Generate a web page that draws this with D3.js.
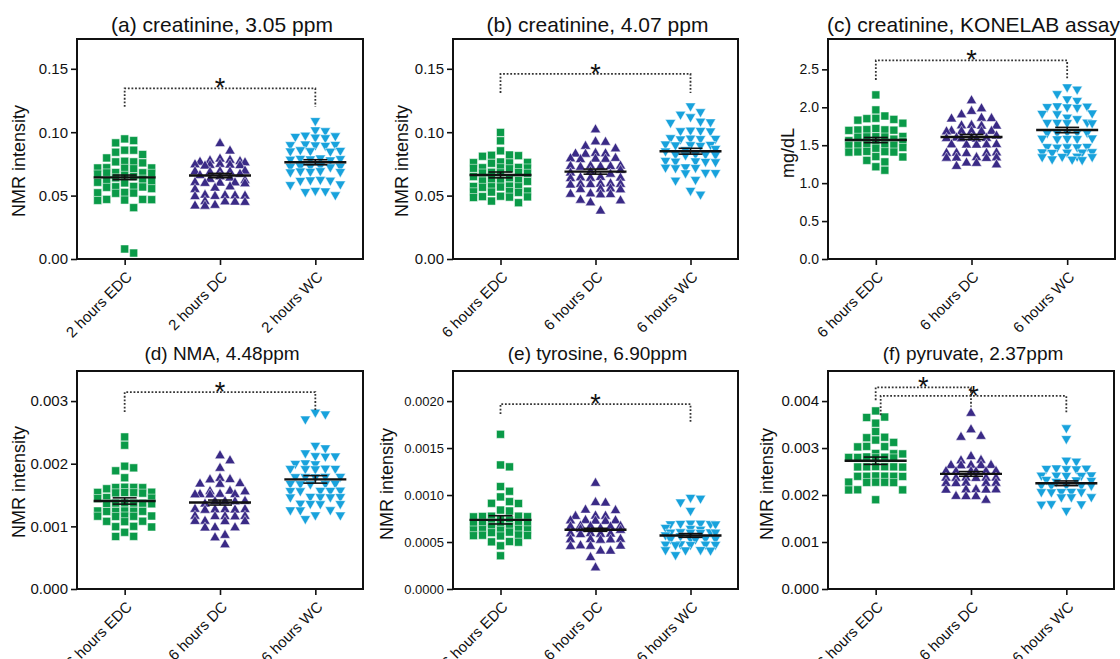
<!DOCTYPE html>
<html><head><meta charset="utf-8">
<script src="https://cdn.jsdelivr.net/npm/d3@7"></script>
<style>body{margin:0;background:#fff;} svg{display:block;font-family:"Liberation Sans",Arial,sans-serif;}</style>
</head><body><svg id="c" width="1120" height="659"></svg>
<script>
// ---------- texts ----------
const titles = ["(a) creatinine, 3.05 ppm","(b) creatinine, 4.07 ppm","(c) creatinine, KONELAB assay",
                "(d) NMA, 4.48ppm","(e) tyrosine, 6.90ppm","(f) pyruvate, 2.37ppm"];
const cats2h = ["2 hours EDC","2 hours DC","2 hours WC"];
const cats6h = ["6 hours EDC","6 hours DC","6 hours WC"];
const yLabels = ["NMR intensity","NMR intensity","mg/dL","NMR intensity","NMR intensity","NMR intensity"];
// ---------- tick values ----------
const ticksA = [0,0.05,0.10,0.15];
const ticksB = [0,0.05,0.10,0.15];
const ticksC = [0,0.5,1.0,1.5,2.0,2.5];
const ticksD = [0,0.001,0.002,0.003];
const ticksE = [0,0.0005,0.0010,0.0015,0.0020];
const ticksF = [0,0.001,0.002,0.003,0.004];
// ---------- (a) ----------
const aEDC = [0.0947,0.0934,0.0916,0.0858,0.0842,0.0858,0.0824,0.0797,0.0771,0.0766,0.0766,0.0758,0.0720,0.0718,0.0715,0.0712,0.0718,0.0680,0.0679,0.0676,0.0682,0.0670,0.0660,0.0650,0.0640,0.0630,0.0620,0.0613,0.0605,0.0600,0.0572,0.0570,0.0555,0.0565,0.0568,0.0520,0.0525,0.0518,0.0522,0.0470,0.0468,0.0462,0.0465,0.0470,0.0405,0.0079,0.0047];
const aDC = [0.0921,0.0863,0.0800,0.0790,0.0785,0.0780,0.0775,0.0770,0.0755,0.0752,0.0758,0.0750,0.0748,0.0745,0.0705,0.0700,0.0702,0.0698,0.0695,0.0680,0.0670,0.0660,0.0650,0.0640,0.0630,0.0615,0.0610,0.0612,0.0608,0.0605,0.0580,0.0570,0.0560,0.0515,0.0510,0.0512,0.0508,0.0505,0.0503,0.0465,0.0460,0.0458,0.0462,0.0435,0.0430,0.0428];
const aWC = [0.1080,0.1007,0.1000,0.0965,0.0960,0.0955,0.0950,0.0945,0.0890,0.0895,0.0888,0.0885,0.0892,0.0840,0.0838,0.0845,0.0842,0.0850,0.0785,0.0780,0.0778,0.0782,0.0775,0.0770,0.0720,0.0725,0.0718,0.0722,0.0715,0.0720,0.0680,0.0678,0.0682,0.0685,0.0675,0.0612,0.0608,0.0615,0.0610,0.0580,0.0575,0.0530,0.0525,0.0520,0.0495];
const aMean = [0.0644,0.0658,0.0763];
const aSem = [0.0018,0.0017,0.0020];
// ---------- (b) ----------
const bEDC = [0.0998,0.0932,0.0853,0.0820,0.0815,0.0810,0.0818,0.0765,0.0762,0.0760,0.0758,0.0755,0.0722,0.0720,0.0718,0.0715,0.0712,0.0720,0.0682,0.0680,0.0678,0.0684,0.0676,0.0650,0.0640,0.0630,0.0620,0.0615,0.0612,0.0618,0.0572,0.0570,0.0568,0.0575,0.0565,0.0570,0.0532,0.0530,0.0528,0.0535,0.0525,0.0492,0.0490,0.0488,0.0485,0.0495,0.0457,0.0444];
const bDC = [0.1030,0.0932,0.0935,0.0900,0.0880,0.0845,0.0840,0.0838,0.0842,0.0805,0.0800,0.0798,0.0802,0.0795,0.0745,0.0742,0.0740,0.0738,0.0744,0.0735,0.0710,0.0700,0.0690,0.0680,0.0655,0.0650,0.0648,0.0652,0.0645,0.0600,0.0598,0.0602,0.0605,0.0595,0.0600,0.0562,0.0560,0.0558,0.0565,0.0522,0.0520,0.0518,0.0525,0.0475,0.0470,0.0455,0.0390];
const bWC = [0.1196,0.1150,0.1130,0.1110,0.1075,0.1070,0.1065,0.1005,0.1000,0.0998,0.1002,0.0945,0.0940,0.0938,0.0942,0.0935,0.0892,0.0890,0.0888,0.0895,0.0885,0.0860,0.0850,0.0840,0.0815,0.0812,0.0818,0.0810,0.0815,0.0760,0.0758,0.0762,0.0755,0.0765,0.0712,0.0710,0.0708,0.0715,0.0672,0.0670,0.0668,0.0615,0.0610,0.0530,0.0500];
const bMean = [0.0663,0.0689,0.0850];
const bSem = [0.0023,0.0020,0.0023];
// ---------- (c) ----------
const cEDC = [2.163,1.965,1.885,1.855,1.830,1.850,1.840,1.790,1.700,1.695,1.720,1.705,1.698,1.702,1.612,1.608,1.615,1.610,1.605,1.580,1.560,1.545,1.530,1.505,1.500,1.495,1.502,1.498,1.470,1.460,1.415,1.410,1.418,1.412,1.408,1.350,1.345,1.300,1.280,1.216,1.170];
const cDC = [2.106,2.000,1.965,1.920,1.875,1.870,1.865,1.780,1.775,1.770,1.772,1.700,1.698,1.702,1.705,1.695,1.700,1.640,1.615,1.610,1.612,1.608,1.605,1.600,1.525,1.522,1.528,1.520,1.524,1.415,1.412,1.418,1.410,1.414,1.352,1.348,1.350,1.355,1.345,1.285,1.280,1.260,1.240];
const cWC = [2.250,2.220,2.160,2.090,2.070,2.000,1.990,1.980,1.985,1.995,1.900,1.905,1.895,1.850,1.830,1.780,1.775,1.785,1.778,1.782,1.650,1.648,1.652,1.655,1.645,1.570,1.568,1.572,1.575,1.565,1.460,1.458,1.462,1.465,1.455,1.390,1.388,1.392,1.395,1.385,1.330,1.328,1.332,1.335,1.295,1.290,1.300];
const cMean = [1.568,1.608,1.700];
const cSem = [0.034,0.033,0.035];
// ---------- (d) ----------
const dEDC = [0.002427,0.002295,0.001960,0.001934,0.001887,0.001776,0.001625,0.001620,0.001618,0.001622,0.001600,0.001545,0.001540,0.001538,0.001542,0.001535,0.001530,0.001460,0.001450,0.001445,0.001370,0.001368,0.001372,0.001360,0.001365,0.001370,0.001245,0.001240,0.001242,0.001238,0.001245,0.001240,0.001165,0.001160,0.001162,0.001158,0.001165,0.001080,0.001075,0.001082,0.001000,0.000990,0.000995,0.000905,0.000840,0.000838];
const dDC = [0.002150,0.002070,0.001950,0.001790,0.001770,0.001765,0.001700,0.001695,0.001705,0.001580,0.001575,0.001585,0.001530,0.001528,0.001532,0.001535,0.001525,0.001420,0.001418,0.001422,0.001415,0.001380,0.001290,0.001288,0.001292,0.001285,0.001295,0.001280,0.001180,0.001178,0.001182,0.001185,0.001175,0.001100,0.001098,0.001102,0.001105,0.001000,0.000998,0.001002,0.000880,0.000840,0.000730];
const dWC = [0.002800,0.002770,0.002690,0.002270,0.002230,0.002150,0.002100,0.002095,0.002105,0.001980,0.001975,0.001990,0.001900,0.001895,0.001905,0.001898,0.001902,0.001770,0.001768,0.001772,0.001775,0.001765,0.001660,0.001658,0.001662,0.001665,0.001655,0.001550,0.001548,0.001552,0.001555,0.001545,0.001450,0.001448,0.001452,0.001455,0.001445,0.001340,0.001338,0.001342,0.001345,0.001240,0.001238,0.001242,0.001160,0.001158,0.001100];
const dMean = [0.001405,0.001380,0.001750];
const dSem = [0.000050,0.000040,0.000060];
// ---------- (e) ----------
const eEDC = [0.001646,0.001320,0.001300,0.001090,0.001040,0.000980,0.000930,0.000910,0.000912,0.000840,0.000830,0.000775,0.000770,0.000772,0.000768,0.000775,0.000740,0.000735,0.000700,0.000698,0.000702,0.000695,0.000705,0.000700,0.000660,0.000665,0.000632,0.000630,0.000628,0.000635,0.000625,0.000600,0.000605,0.000572,0.000570,0.000568,0.000575,0.000565,0.000502,0.000498,0.000505,0.000460,0.000354];
const eDC = [0.001140,0.000935,0.000930,0.000855,0.000850,0.000790,0.000788,0.000792,0.000740,0.000738,0.000742,0.000745,0.000735,0.000680,0.000678,0.000682,0.000685,0.000675,0.000660,0.000650,0.000640,0.000600,0.000598,0.000602,0.000605,0.000595,0.000540,0.000538,0.000542,0.000545,0.000535,0.000470,0.000468,0.000472,0.000475,0.000420,0.000418,0.000350,0.000240];
const eWC = [0.000960,0.000950,0.000910,0.000820,0.000685,0.000682,0.000680,0.000678,0.000684,0.000676,0.000640,0.000630,0.000620,0.000592,0.000590,0.000588,0.000594,0.000586,0.000590,0.000560,0.000550,0.000522,0.000520,0.000518,0.000524,0.000516,0.000462,0.000460,0.000458,0.000464,0.000456,0.000462,0.000402,0.000400,0.000398,0.000404,0.000350];
const eMean = [0.000736,0.000630,0.000570];
const eSem = [0.000044,0.000016,0.000020];
// ---------- (f) ----------
const fEDC = [0.003790,0.003660,0.003650,0.003530,0.003350,0.003230,0.003220,0.003170,0.003120,0.003030,0.003025,0.003035,0.002880,0.002875,0.002885,0.002800,0.002795,0.002805,0.002810,0.002790,0.002800,0.002600,0.002598,0.002602,0.002605,0.002595,0.002600,0.002400,0.002398,0.002402,0.002405,0.002395,0.002400,0.002270,0.002268,0.002272,0.002265,0.002275,0.002110,0.002108,0.002112,0.001900];
const fDC = [0.003770,0.003420,0.003280,0.003260,0.002850,0.002770,0.002760,0.002660,0.002658,0.002662,0.002665,0.002655,0.002530,0.002528,0.002532,0.002535,0.002525,0.002530,0.002390,0.002388,0.002392,0.002395,0.002385,0.002390,0.002280,0.002278,0.002282,0.002285,0.002275,0.002140,0.002138,0.002142,0.002145,0.002135,0.002000,0.001998,0.002002,0.001920];
const fWC = [0.003400,0.003170,0.002710,0.002690,0.002540,0.002535,0.002530,0.002525,0.002545,0.002390,0.002388,0.002392,0.002395,0.002385,0.002300,0.002290,0.002280,0.002260,0.002180,0.002178,0.002182,0.002185,0.002175,0.002040,0.002038,0.002042,0.002045,0.002035,0.001930,0.001928,0.001932,0.001780,0.001775,0.001785,0.001640];
const fMean = [0.002730,0.002450,0.002250];
const fSem = [0.000078,0.000050,0.000050];
// ---------- significance brackets: [from, to, line value, left end value, right end value] ----------
const aBr = [[0,2,0.1345,0.1200,0.1200]];
const bBr = [[0,2,0.1460,0.1310,0.1310]];
const cBr = [[0,2,2.617,2.361,2.361]];
const dBr = [[0,2,0.003143,0.002825,0.002825]];
const eBr = [[0,2,0.001968,0.001862,0.001781]];
const fBr = [[0,1,0.004290,0.004020,0.003880],[0,2,0.004110,0.003700,0.003740]];

// ---------- layout (pixels) ----------
const panels = [
 {title:titles[0],cats:cats2h,groups:[aEDC,aDC,aWC],mean:aMean,sem:aSem,ticks:ticksA,fmt:".2f",ymax:0.1735,box:[77,39,363,259],ylab:yLabels[0],ylx:19,yly:161,tfs:15,br:aBr,brdx:[0],tt:31.5,tfsz:21},
 {title:titles[1],cats:cats6h,groups:[bEDC,bDC,bWC],mean:bMean,sem:bSem,ticks:ticksB,fmt:".2f",ymax:0.1735,box:[453,39,738,259],ylab:yLabels[1],ylx:402,yly:161,tfs:15,br:bBr,brdx:[0],tt:31.5,tfsz:21},
 {title:titles[2],cats:cats6h,groups:[cEDC,cDC,cWC],mean:cMean,sem:cSem,ticks:ticksC,fmt:".1f",ymax:2.9,box:[828,39,1115,259],ylab:yLabels[2],ylx:788,yly:153,tfs:14,br:cBr,brdx:[0],tt:31.5,tfsz:21},
 {title:titles[3],cats:cats6h,groups:[dEDC,dDC,dWC],mean:dMean,sem:dSem,ticks:ticksD,fmt:".3f",ymax:0.00348,box:[77,371,363,589],ylab:yLabels[3],ylx:19,yly:482,tfs:15,br:dBr,brdx:[0],tt:360,tfsz:19},
 {title:titles[4],cats:cats6h,groups:[eEDC,eDC,eWC],mean:eMean,sem:eSem,ticks:ticksE,fmt:".4f",ymax:0.00232,box:[453,371,738,589],ylab:yLabels[4],ylx:387,yly:484,tfs:13,br:eBr,brdx:[0],tt:360,tfsz:19},
 {title:titles[5],cats:cats6h,groups:[fEDC,fDC,fWC],mean:fMean,sem:fSem,ticks:ticksF,fmt:".3f",ymax:0.00464,box:[828,371,1114,589],ylab:yLabels[5],ylx:767,yly:484,tfs:15,br:fBr,brdx:[0,5],tt:360,tfsz:19}
];
const colors = ["#0a9a48","#3a2a86","#18a2dc"];
const shapes = [
  "M-4,-4h8v8h-8z",
  "M0,-4.6L5.2,4.4L-5.2,4.4Z",
  "M0,4.6L5.2,-4.4L-5.2,-4.4Z"
];
const collide = [[9,8],[10,8.4],[10,8.4]];
const maxOff = [27,26,26];

function swarm(vals, y, w, h, mo){
  const pts = vals.map(v=>({v, y:y(v)})).sort((a,b)=>a.y-b.y);
  const placed = [];
  const s = w/2;
  const nSteps = Math.floor(mo/s);
  pts.forEach(p=>{
    let bal = d3.sum(placed.filter(q=>Math.abs(q.y-p.y)<h), q=>q.x);
    const cands = [0];
    for(let k=1;k<=nSteps;k++){ if(bal>0){cands.push(-k*s,k*s);} else {cands.push(k*s,-k*s);} }
    let best=null, bestScore=Infinity;
    for(const ox of cands){
      let sc=0;
      for(const q of placed){
        const dx=w-Math.abs(q.x-ox), dy=h-Math.abs(q.y-p.y);
        if(dx>0.01&&dy>0.01) sc+=dx*dy;
      }
      if(sc===0){best=ox;bestScore=0;break;}
      if(sc<bestScore-1e-6){bestScore=sc;best=ox;}
    }
    p.x=best; placed.push(p);
  });
  return pts;
}

const svg = d3.select("#c");
svg.append("rect").attr("width",1120).attr("height",659).attr("fill","#fff");

panels.forEach(p=>{
  const [l,t,r,b] = p.box;
  const g = svg.append("g");
  const x = d3.scalePoint().domain(p.cats).range([l,r]).padding(0.5);
  const y = d3.scaleLinear().domain([0,p.ymax]).range([b,t]);

  // y axis
  const ya = g.append("g").attr("transform",`translate(${l},0)`)
    .call(d3.axisLeft(y).tickValues(p.ticks).tickFormat(d3.format(p.fmt)).tickSize(6).tickSizeOuter(0));
  ya.select(".domain").remove();
  ya.selectAll("text").attr("font-size",p.tfs).attr("fill","#111").attr("font-family","Liberation Sans, Arial, sans-serif");
  ya.selectAll("line").attr("stroke","#111").attr("stroke-width",1.6);
  // x axis
  const xa = g.append("g").attr("transform",`translate(0,${b})`)
    .call(d3.axisBottom(x).tickSize(6).tickSizeOuter(0));
  xa.select(".domain").remove();
  xa.selectAll("line").attr("stroke","#111").attr("stroke-width",1.6);
  xa.selectAll("text").attr("font-size",15).attr("fill","#111").attr("font-family","Liberation Sans, Arial, sans-serif")
    .attr("text-anchor","end").attr("x",0).attr("y",0).attr("dy","0.35em")
    .attr("transform","translate(4,15) rotate(-45)");

  // points
  p.groups.forEach((vals,i)=>{
    const cx = x(p.cats[i]);
    const pts = swarm(vals,y,collide[i][0],collide[i][1],maxOff[i]);
    g.append("g").selectAll("path").data(pts).join("path")
      .attr("d",shapes[i]).attr("transform",d=>`translate(${cx+d.x},${d.y})`)
      .attr("fill",colors[i]).attr("stroke","#fff").attr("stroke-width",0.5);
  });
  // mean + SEM
  p.groups.forEach((vals,i)=>{
    const cx = x(p.cats[i]);
    const m = p.mean[i], se = p.sem[i];
    g.append("line").attr("x1",cx-31).attr("x2",cx+31).attr("y1",y(m)).attr("y2",y(m)).attr("stroke","#111").attr("stroke-width",2.4);
    g.append("line").attr("x1",cx).attr("x2",cx).attr("y1",y(m-se)).attr("y2",y(m+se)).attr("stroke","#111").attr("stroke-width",1.6);
    [m-se,m+se].forEach(v=>g.append("line").attr("x1",cx-12).attr("x2",cx+12).attr("y1",y(v)).attr("y2",y(v)).attr("stroke","#111").attr("stroke-width",1.6));
  });
  // brackets
  p.br.forEach((br,j)=>{
    const [a,c,yl,ya0,yb0] = br;
    const x1 = x(p.cats[a])+p.brdx[j], x2 = x(p.cats[c]);
    g.append("path").attr("d",`M${x1},${y(ya0)}V${y(yl)}H${x2}V${y(yb0)}`)
      .attr("fill","none").attr("stroke","#333").attr("stroke-width",1.8).attr("stroke-dasharray","1.8,1.8");
    g.append("text").attr("x",(x1+x2)/2).attr("y",y(yl)+9).attr("text-anchor","middle")
      .attr("font-size",27).attr("fill","#111").text("*");
  });
  // frame
  g.append("rect").attr("x",l).attr("y",t).attr("width",r-l).attr("height",b-t)
    .attr("fill","none").attr("stroke","#111").attr("stroke-width",2);
  // title
  g.append("text").attr("x",(l+r)/2+2).attr("y",p.tt).attr("text-anchor","middle")
    .attr("font-size",p.tfsz).attr("fill","#111").text(p.title);
  // y label
  g.append("text").attr("transform",`translate(${p.ylx},${p.yly}) rotate(-90)`).attr("dy","0.35em")
    .attr("text-anchor","middle").attr("font-size",18).attr("fill","#111").text(p.ylab);
});
</script></body></html>
